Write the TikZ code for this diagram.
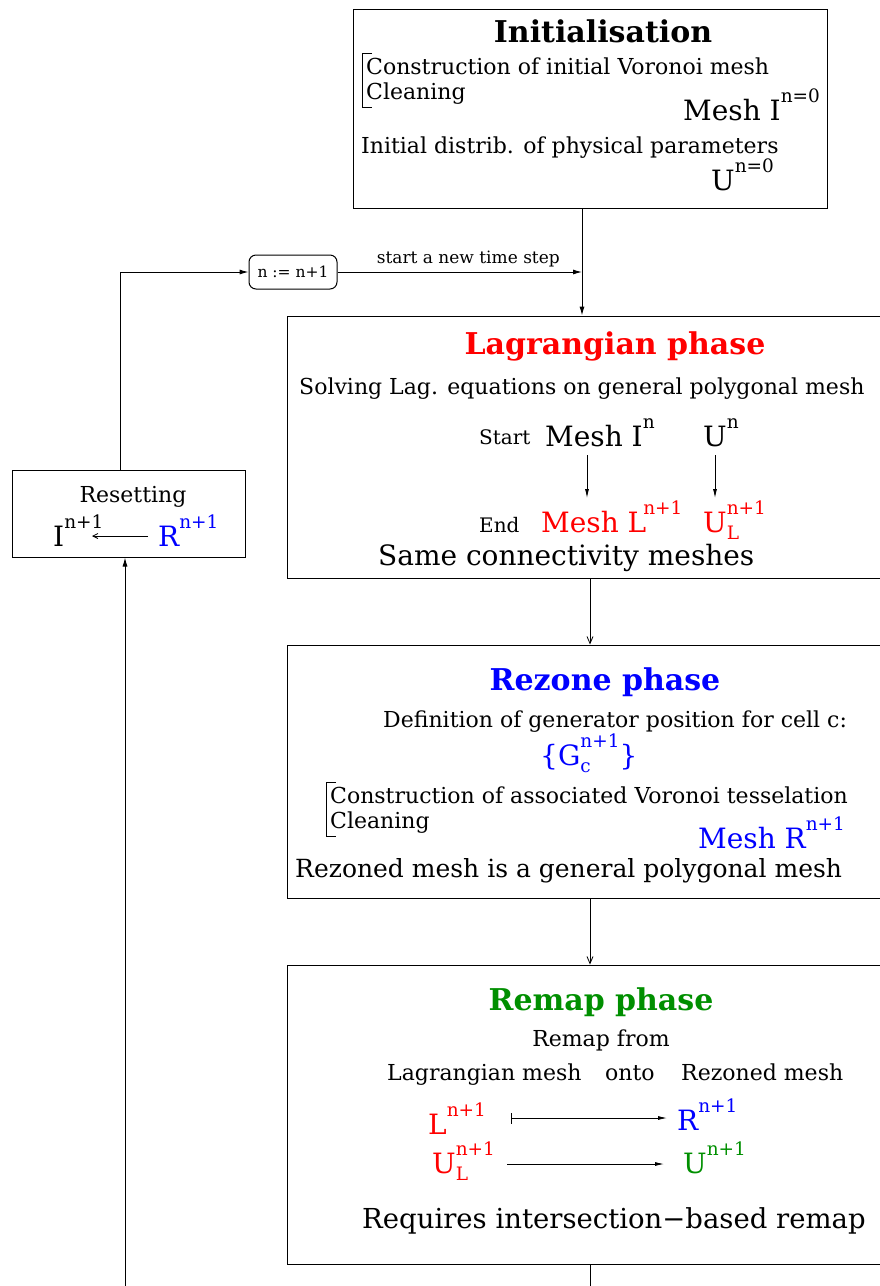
\documentclass[tikz,border=0pt]{standalone}
\usepackage{amsmath}
\usepackage{fontspec}
\setmainfont{DejaVu Serif}
\usetikzlibrary{arrows.meta,positioning}

\definecolor{remapgreen}{rgb}{0,0.56,0}

\makeatletter
\newcommand{\ScriptFont}{\fontsize{\dimexpr\f@size pt*66/100\relax}{0pt}\selectfont}
\makeatother
\newcommand{\Sup}[2]{#1\raisebox{.62em}{\ScriptFont #2}}
\newcommand{\SupSub}[3]{#1\rlap{\raisebox{-.28em}{\ScriptFont #3}}\raisebox{.62em}{\ScriptFont #2}}
\newcommand{\TitleFont}{\fontsize{30}{34}\selectfont\bfseries}
\newcommand{\BodyFont}{\fontsize{22}{26}\selectfont}
\newcommand{\BigFont}{\fontsize{28}{32}\selectfont}
\newcommand{\LargeFont}{\fontsize{25}{29}\selectfont}
\newcommand{\MidFont}{\fontsize{20}{24}\selectfont}
\newcommand{\SmallFont}{\fontsize{15.5}{18}\selectfont}
\newcommand{\TinyFont}{\fontsize{17}{20}\selectfont}

\begin{document}
\begin{tikzpicture}[x=1pt,y=-1pt]
		\tikzstyle{BoxStyle}   = [draw,line width=1pt,inner sep=0pt]
		\tikzstyle{RoundStyle} = [BoxStyle,rounded corners=7pt,font=\SmallFont]
		\tikzstyle{TitleStyle} = [inner sep=0pt,anchor=base,font=\TitleFont]
		\tikzstyle{BodyStyle}  = [inner sep=0pt,anchor=base west,font=\BodyFont]
		\tikzstyle{BigStyle}   = [inner sep=0pt,anchor=base west,font=\BigFont]
		\tikzstyle{LargeStyle} = [inner sep=0pt,anchor=base west,font=\LargeFont]
		\tikzstyle{MidStyle}   = [inner sep=0pt,anchor=base west,font=\MidFont]
		\tikzstyle{EdgeStyle}  = [line width=1pt,-{Latex[length=9pt,width=5pt]}]
		\tikzstyle{OpenEdgeStyle} = [line width=0.8pt,-{Straight Barb[length=7pt,width=6pt]}]
		\tikzstyle{ThinEdgeStyle} = [line width=0.8pt,-{Latex[length=9pt,width=4pt]}]
		\tikzstyle{BarEdgeStyle}  = [line width=0.8pt,{Bar[width=11pt]}-{Latex[length=9pt,width=4pt]}]
		\tikzstyle{BackEdgeStyle} = [line width=0.8pt,-{Straight Barb[length=5pt,width=5pt]}]
		\tikzstyle{BracketStyle}  = [line width=0.6pt]

		\clip (0,0) rectangle (880,1286);

		% the boxes
		\node[BoxStyle,minimum width=474pt,minimum height=199pt] (init) at (590,108.5) {};
		\node[BoxStyle,minimum width=643pt,minimum height=262pt] (lag) at (608.5,447) {};
		\node[BoxStyle,minimum width=643pt,minimum height=253pt] (rez) at (608.5,771.5) {};
		\node[BoxStyle,minimum width=643pt,minimum height=299pt] (rem) at (608.5,1114.5) {};
		\node[BoxStyle,minimum width=233pt,minimum height=87pt] (reset) at (128.5,513.5) {};
		\node[RoundStyle,minimum width=88pt,minimum height=34pt] (incr) at (293,272) {n := n+1};

		\coordinate (join) at (582,272);
		\coordinate (stem) at (590,1300);
		\coordinate (loopup) at (120,0);
		\coordinate (loopdown) at (125,1300);

		% initialisation
		\node[TitleStyle] (initTitle) at (603,42) {Initialisation};
		\node[BodyStyle] (initList1) at (366,74) {Construction of initial Voronoi mesh};
		\node[BodyStyle] (initList2) at (366,99) {Cleaning};
		\draw[BracketStyle] ([shift={(6,-4)}]initList1.north west) -- ++(-10,0) |- ([shift={(6,3)}]initList2.south west);
		\node[BigStyle] (initMesh) at (683,120) {Mesh \Sup{I}{n=0}};
		\node[BodyStyle] (initDistrib) at (361,153) {Initial distrib. of physical parameters};
		\node[BigStyle] (initU) at (711,190) {\Sup{U}{n=0}};

		% lagrangian phase
		\node[TitleStyle,text=red] (lagTitle) at (615,354) {Lagrangian phase};
		\node[BodyStyle] (lagSolve) at (299,394) {Solving Lag. equations on general polygonal mesh};
		\node[MidStyle] (lagStart) at (479,444) {Start};
		\node[BigStyle] (lagMesh) at (545,446) {Mesh \Sup{I}{n}};
		\node[BigStyle] (lagU) at (703,446) {\Sup{U}{n}};
		\node[MidStyle] (lagEnd) at (479,532) {End};
		\node[BigStyle,text=red] (lagMeshL) at (541,532) {Mesh L\hspace{-3pt}\raisebox{.62em}{\ScriptFont n+1}};
		\node[BigStyle,text=red] (lagUL) at (703,532) {\SupSub{U}{n+1}{L}};
		\node[BigStyle] (lagSame) at (378,565) {Same connectivity meshes};
		\draw[ThinEdgeStyle] ([shift={(42,9)}]lagMesh.base west) -- ([shift={(46,-34)}]lagMeshL.base west);
		\draw[ThinEdgeStyle] ([shift={(12,9)}]lagU.base west) -- ([shift={(12,-34)}]lagUL.base west);

		% rezone phase
		\node[TitleStyle,text=blue] (rezTitle) at (605,690) {Rezone phase};
		\node[BodyStyle] (rezDef) at (383,727) {Definition of generator position for cell c:};
		\node[BigStyle,text=blue] (rezGen) at (540,765) {\{\SupSub{G}{n+1}{c}\}};
		\node[BodyStyle] (rezList1) at (330,803) {Construction of associated Voronoi tesselation};
		\node[BodyStyle] (rezList2) at (330,828) {Cleaning};
		\draw[BracketStyle] ([shift={(6,-4)}]rezList1.north west) -- ++(-10,0) |- ([shift={(6,3)}]rezList2.south west);
		\node[BigStyle,text=blue] (rezMesh) at (698,848) {Mesh \Sup{R}{n+1}};
		\node[LargeStyle] (rezNote) at (295,877) {Rezoned mesh is a general polygonal mesh};

		% remap phase
		\node[TitleStyle,text=remapgreen] (remTitle) at (601,1010) {Remap phase};
		\node[BodyStyle,anchor=base] (remFrom) at (601,1046) {Remap from};
		\node[BodyStyle] (remLag) at (387,1080) {Lagrangian mesh};
		\node[BodyStyle] (remOnto) at (605,1080) {onto};
		\node[BodyStyle] (remRez) at (681,1080) {Rezoned mesh};
		\node[BigStyle,text=red] (remL) at (428,1134) {\Sup{L}{n+1}};
		\node[BigStyle,text=blue] (remR) at (677,1130) {\Sup{R}{n+1}};
		\node[BigStyle,text=red] (remUL) at (432,1173) {\SupSub{U}{n+1}{L}};
		\node[BigStyle,text=remapgreen] (remU) at (683,1173) {\Sup{U}{n+1}};
		\node[BigStyle,font=\fontsize{27.5}{32}\selectfont] (remNote) at (362,1228) {Requires intersection−based remap};
		\draw[BarEdgeStyle] ([shift={(83,-16)}]remL.base west) -- ([shift={(-10,-12)}]remR.base west);
		\draw[ThinEdgeStyle] ([shift={(75,-9)}]remUL.base west) -- ([shift={(-19,-9)}]remU.base west);

		% resetting
		\node[BodyStyle,anchor=base] (resetTitle) at (133,502) {Resetting};
		\node[BigStyle] (resetI) at (53,546) {\Sup{I}{n+1}};
		\node[BigStyle,text=blue] (resetR) at (158,546) {\Sup{R}{n+1}};
		\draw[BackEdgeStyle] ([shift={(-10,-10)}]resetR.base west) -- ([shift={(39,-10)}]resetI.base west);

		% connectors
		\draw[EdgeStyle] (init.south -| join) -- (lag.north -| join);
		\draw[EdgeStyle] (incr.east) -- (join) node[pos=0.535,above=1pt,font=\TinyFont] (stepLabel) {start a new time step};
		\draw[EdgeStyle] (reset.north -| loopup) |- (incr.west);
		\draw[EdgeStyle] (loopdown) -- (reset.south -| loopdown);
		\draw[OpenEdgeStyle] (lag.south -| stem) -- (rez.north -| stem);
		\draw[OpenEdgeStyle] (rez.south -| stem) -- (rem.north -| stem);
		\draw[line width=1pt] (rem.south -| stem) -- (stem);
	\end{tikzpicture}
\end{document}
